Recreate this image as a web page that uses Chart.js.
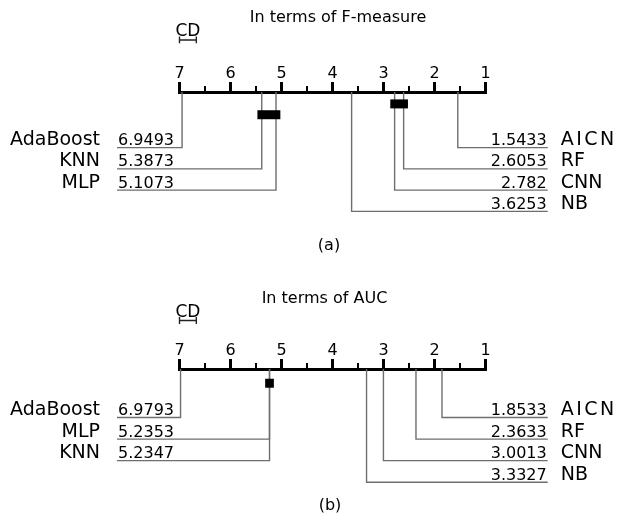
<!DOCTYPE html>
<html>
<head>
<meta charset="utf-8">
<script src="https://cdn.jsdelivr.net/npm/chart.js@4.4.0/dist/chart.umd.min.js"></script>
<style>
  html, body { margin: 0; padding: 0; background: #fff; }
  .panel { position: absolute; left: 0; width: 617px; }
  #panelA { top: 0; height: 270px; }
  #panelB { top: 270px; height: 247px; }
</style>
</head>
<body>
<div class="panel" id="panelA"><canvas id="chartA" width="617" height="270"></canvas></div>
<div class="panel" id="panelB"><canvas id="chartB" width="617" height="247"></canvas></div>
<script>
// average ranks (Friedman / Nemenyi), F-measure
const fNames = ["AICN", "RF", "CNN", "NB", "MLP", "KNN", "AdaBoost"];
const fRanks = [1.5433, 2.6053, 2.782, 3.6253, 5.1073, 5.3873, 6.9493];
const fCliques = [["RF", "CNN"], ["KNN", "MLP"]];
const fCD = 0.33;

// average ranks, AUC
const aucNames = ["AICN", "RF", "CNN", "NB", "MLP", "KNN", "AdaBoost"];
const aucRanks = [1.8533, 2.3633, 3.0013, 3.3327, 5.2353, 5.2347, 6.9793];
const aucCliques = [["MLP", "KNN"]];
const aucCD = 0.33;

const rankMin = 1;
const rankMax = 7;
const highlight = "AICN";

const FONT = "'DejaVu Sans', sans-serif";
const LINE_GREY = "#6e6e6e";
const TICK_FONT = 16;
const TICK_LEN = 10;
const TICK_PAD = -1;
const LEFT_EDGE = 8.225;   // where the left label lines end (rank units)
const RIGHT_EDGE = -0.22;  // where the right label lines end

function cdPlugin(p) {
  return {
    id: "cdText",
    afterDraw(chart) {
      const ctx = chart.ctx;
      const x = chart.scales.x, y = chart.scales.y;
      const axisY = chart.chartArea.top;
      ctx.save();

      // half-rank ticks on the ruler
      ctx.strokeStyle = "#000";
      ctx.lineWidth = 2;
      for (let r = rankMin; r < rankMax; r++) {
        const px = x.getPixelForValue(r + 0.5);
        ctx.beginPath();
        ctx.moveTo(px, axisY);
        ctx.lineTo(px, axisY - 6);
        ctx.stroke();
      }

      ctx.fillStyle = "#000";
      ctx.textAlign = "center";
      ctx.textBaseline = "middle";
      ctx.font = "16px " + FONT;
      ctx.fillText(p.title, p.titleX, p.titleY);
      ctx.fillText(p.caption, p.captionX, p.captionY);

      // CD label above its bracket
      const cdMid = x.getPixelForValue(rankMax - p.cd / 2);
      ctx.font = "17px " + FONT;
      ctx.textBaseline = "alphabetic";
      ctx.fillText("CD", cdMid, y.getPixelForValue(p.cdY) - 3.5);

      // method names and their average ranks
      const lx = x.getPixelForValue(LEFT_EDGE);
      const rx = x.getPixelForValue(RIGHT_EDGE);
      p.rows.forEach(row => {
        const py = y.getPixelForValue(row.y) - 2.5;
        ctx.font = "16px " + FONT;
        if (row.side === "left") {
          ctx.textAlign = "left";
          ctx.fillText(String(row.rank), lx + 1, py);
          ctx.font = "19px " + FONT;
          ctx.textAlign = "right";
          ctx.fillText(row.name, lx - 17, py);
        } else {
          ctx.textAlign = "right";
          ctx.fillText(String(row.rank), rx - 1, py);
          ctx.font = "19px " + FONT;
          ctx.textAlign = "left";
          ctx.letterSpacing = row.name === highlight ? "2.5px" : "0px";
          ctx.fillText(row.name, rx + 13, py);
          ctx.letterSpacing = "0px";
        }
      });
      ctx.restore();
    }
  };
}

function buildPanel(canvasId, p) {
  const sorted = p.names.map((n, i) => ({ name: n, rank: p.ranks[i] }))
    .sort((a, b) => a.rank - b.rank);
  const nRight = Math.ceil(sorted.length / 2);
  const right = sorted.slice(0, nRight);
  const left = sorted.slice(nRight).reverse();

  const rows = [];
  right.forEach((m, i) => rows.push({ ...m, side: "right", y: p.firstRow + i }));
  left.forEach((m, i) => rows.push({ ...m, side: "left", y: p.firstRow + i }));

  const datasets = [];
  rows.forEach(row => {
    datasets.push({
      data: [
        { x: row.rank, y: 0 },
        { x: row.rank, y: row.y },
        { x: row.side === "left" ? LEFT_EDGE : RIGHT_EDGE, y: row.y }
      ],
      borderColor: LINE_GREY,
      borderWidth: 1.4,
      order: 2
    });
  });

  // groups with no significant difference
  p.cliques.forEach((c, i) => {
    const rs = c.map(n => p.ranks[p.names.indexOf(n)]);
    datasets.push({
      data: [
        { x: Math.min(...rs) - 0.085, y: p.cliqueLevels[i] },
        { x: Math.max(...rs) + 0.085, y: p.cliqueLevels[i] }
      ],
      borderColor: "#000",
      borderWidth: 9,
      borderCapStyle: "butt",
      order: 1
    });
  });

  // critical difference bracket
  const h = 0.16;
  datasets.push({
    data: [
      { x: rankMax, y: p.cdY - h }, { x: rankMax, y: p.cdY + h },
      { x: rankMax, y: p.cdY }, { x: rankMax - p.cd, y: p.cdY },
      { x: rankMax - p.cd, y: p.cdY - h }, { x: rankMax - p.cd, y: p.cdY + h }
    ],
    borderColor: "#222",
    borderWidth: 1.4,
    order: 1
  });

  const axisH = TICK_LEN + TICK_PAD + TICK_FONT * 1.2;
  const canvas = document.getElementById(canvasId);
  const padBottom = canvas.height - p.axisY - p.rowStep * p.yMax;

  new Chart(canvas, {
    type: "scatter",
    data: {
      datasets: datasets.map(d => ({
        showLine: true, pointRadius: 0, tension: 0, clip: false, ...d
      }))
    },
    options: {
      responsive: false,
      animation: false,
      devicePixelRatio: 1,
      events: [],
      layout: {
        padding: { top: p.axisY - axisH, left: 179.5, right: 617 - 485.5, bottom: padBottom }
      },
      plugins: { legend: { display: false }, tooltip: { enabled: false } },
      scales: {
        x: {
          type: "linear",
          position: "top",
          min: rankMin,
          max: rankMax,
          reverse: true,
          border: { display: true, width: 3, color: "#000" },
          grid: {
            drawOnChartArea: false,
            drawTicks: true,
            tickLength: TICK_LEN,
            tickWidth: 3,
            tickColor: "#000",
            lineWidth: 3
          },
          ticks: {
            stepSize: 1,
            autoSkip: false,
            maxRotation: 0,
            padding: TICK_PAD,
            color: "#000",
            font: { family: FONT, size: TICK_FONT, lineHeight: 1.2 }
          }
        },
        y: {
          type: "linear",
          display: false,
          reverse: true,
          min: 0,
          max: p.yMax
        }
      }
    },
    plugins: [cdPlugin({ ...p, rows })]
  });
}

buildPanel("chartA", {
  names: fNames, ranks: fRanks, cliques: fCliques, cd: fCD,
  title: "In terms of F-measure", caption: "(a)",
  titleX: 338, titleY: 18, captionX: 329, captionY: 246,
  axisY: 93, rowStep: 21.1, yMax: 7, firstRow: 2.62,
  cliqueLevels: [0.56, 1.07], cdY: -2.45
});

buildPanel("chartB", {
  names: aucNames, ranks: aucRanks, cliques: aucCliques, cd: aucCD,
  title: "In terms of AUC", caption: "(b)",
  titleX: 324.5, titleY: 28.5, captionX: 330, captionY: 236,
  axisY: 100, rowStep: 21.4, yMax: 6, firstRow: 2.25,
  cliqueLevels: [0.66], cdY: -2.25
});
</script>
</body>
</html>
